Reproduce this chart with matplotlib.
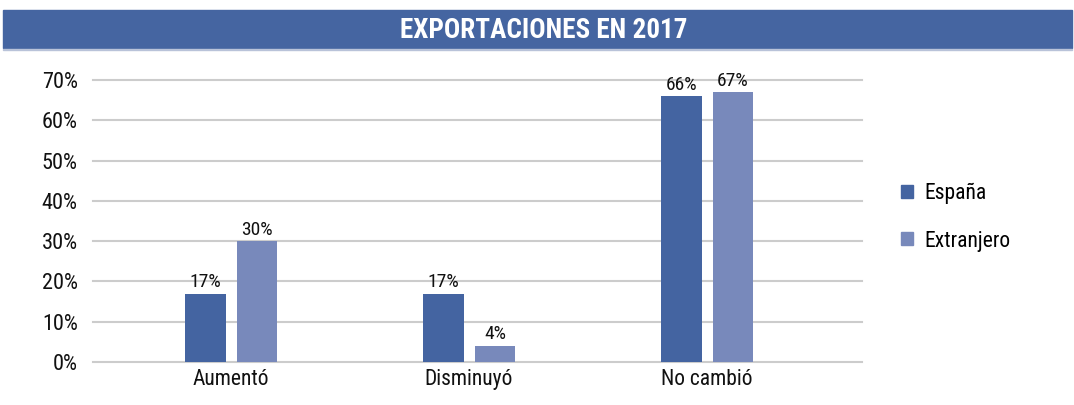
import matplotlib
matplotlib.use("Agg")
import matplotlib.pyplot as plt
from matplotlib.patches import Rectangle, Patch

plt.rcParams['font.family'] = ['Roboto Condensed', 'Liberation Sans Narrow', 'Liberation Sans', 'DejaVu Sans']

# --- data ---
categories = ["Aumentó", "Disminuyó", "No cambió"]
espana = [17, 17, 66]
extranjero = [30, 4, 67]
series_names = ["España", "Extranjero"]
yticks = [0, 10, 20, 30, 40, 50, 60, 70]

COL_ES = "#4464a1"
COL_EX = "#7889bb"
BAND = "#4565a1"

fig = plt.figure(figsize=(10.74, 4.05), dpi=100)

# title band across the top
fig.patches.append(Rectangle((3 / 1074, 1 - 48 / 405), 1069 / 1074, 38 / 405,
                             transform=fig.transFigure, color=BAND, zorder=0))
fig.patches.append(Rectangle((3 / 1074, 1 - 50 / 405), 1069 / 1074, 1.5 / 405,
                             transform=fig.transFigure, color="#b9c3d9", zorder=0))
fig.text(544 / 1074, 1 - 30 / 405, "EXPORTACIONES EN 2017", color="white",
         fontsize=19.5, fontweight="bold", ha="center", va="center")

ax = fig.add_axes([93 / 1074, 1 - 362 / 405, 769 / 1074, 282 / 405])

x = list(range(len(categories)))
w = 0.172
off = 0.109
b1 = ax.bar([i - off for i in x], espana, width=w, color=COL_ES, zorder=3)
b2 = ax.bar([i + off for i in x], extranjero, width=w, color=COL_EX, zorder=3)

for bars, vals in ((b1, espana), (b2, extranjero)):
    for r, v in zip(bars, vals):
        ax.text(r.get_x() + r.get_width() / 2, v + 0.6, f"{v}%",
                ha="center", va="bottom", fontsize=14, color="#111111")

ax.set_xlim(-0.58, 2.651)
ax.set_ylim(0, 70)
ax.set_yticks(yticks)
ax.set_yticklabels([f"{t}%" for t in yticks], fontsize=16, color="#111111")
ax.set_xticks(x)
ax.set_xticklabels(categories, fontsize=15.5, color="#111111")
ax.tick_params(axis="both", length=0)
ax.tick_params(axis="y", pad=11)
ax.tick_params(axis="x", pad=5)
ax.grid(axis="y", color="#cccccc", linewidth=1.5, zorder=0)
for gl in ax.get_ygridlines():
    gl.set_clip_on(False)
ax.set_axisbelow(True)
for s in ax.spines.values():
    s.set_visible(False)

handles = [Patch(color=COL_ES), Patch(color=COL_EX)]
fig.legend(handles, series_names, loc="center left",
           bbox_to_anchor=(882 / 1074, 1 - 217 / 405), frameon=False,
           fontsize=15.5, handlelength=0.55, handleheight=0.55,
           handletextpad=0.5, labelspacing=1.25)

fig.savefig("out.png", dpi=100)
